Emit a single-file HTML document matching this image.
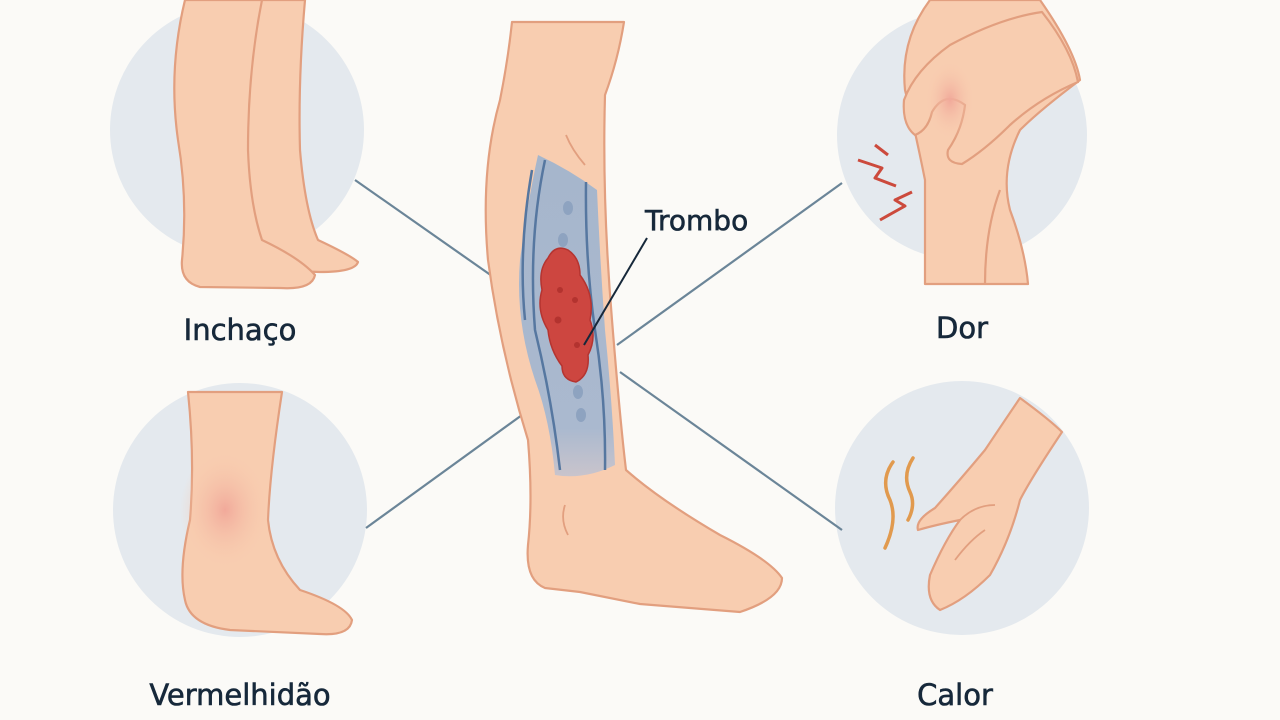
<!DOCTYPE html>
<html><head><meta charset="utf-8"><style>
html,body{margin:0;padding:0;background:#fbfaf7;}
svg{display:block}
text{font-family:"DejaVu Sans","Liberation Sans",sans-serif;fill:#16283a;font-weight:500;stroke:#16283a;stroke-width:0.6}
</style></head><body>
<svg width="1280" height="720" viewBox="0 0 1280 720" xmlns="http://www.w3.org/2000/svg">
<defs>
<radialGradient id="red" cx="0.5" cy="0.5" r="0.5"><stop offset="0" stop-color="#f1a99a"/><stop offset="1" stop-color="#f8cdb0" stop-opacity="0"/></radialGradient>
<linearGradient id="vein" x1="0" y1="0" x2="0" y2="1"><stop offset="0" stop-color="#a6b6cc"/><stop offset="0.85" stop-color="#aab9cf"/><stop offset="1" stop-color="#c9c4cc"/></linearGradient>
</defs>
<g fill="#e4e9ee">
<circle cx="237" cy="130" r="127"/>
<circle cx="240" cy="510" r="127"/>
<circle cx="962" cy="135" r="125"/>
<circle cx="962" cy="508" r="127"/>
</g>
<g stroke="#6b8598" stroke-width="2.2">
<line x1="355" y1="180" x2="492" y2="276"/>
<line x1="366" y1="528" x2="522" y2="415"/>
<line x1="617" y1="345" x2="842" y2="183"/>
<line x1="620" y1="372" x2="842" y2="530"/>
</g>
<g fill="#f8cdb0" stroke="#e29f7f" stroke-width="2.2" stroke-linejoin="round">
<path d="M240 0 L305 0 Q298 80 300 150 Q305 210 318 240 Q350 255 358 262 Q355 272 320 272 L260 270 Q240 265 238 240 Q232 170 240 90 Z"/>
<path d="M185 0 L262 0 Q248 70 248 150 Q250 205 262 240 Q300 258 315 275 Q312 290 280 288 L200 287 Q180 282 182 260 Q188 200 178 140 Q168 70 185 0 Z"/>
<path d="M188 392 L282 392 Q270 470 268 520 Q272 560 300 590 Q345 605 352 620 Q350 636 320 634 L230 630 Q190 625 185 600 Q178 570 190 520 Q195 460 188 392 Z"/>
<path d="M512 22 L624 22 Q618 60 605 95 Q602 200 612 320 Q620 420 626 470 Q660 500 720 535 Q770 560 782 578 Q782 598 740 612 L640 604 Q600 596 580 592 L545 588 Q525 580 528 545 Q533 500 528 440 Q500 350 488 260 Q480 170 500 100 Q508 60 512 22 Z"/>
<!-- knee leg -->
<path d="M925 284 L925 180 Q915 130 905 90 Q900 40 930 0 L1040 0 Q1075 50 1080 80 Q1040 110 1020 130 Q1000 170 1010 210 Q1025 250 1028 284 Z"/>
<path d="M985 284 Q985 230 1000 190" fill="none"/>
<!-- hand on knee -->
<path d="M950 45 Q1000 18 1042 12 Q1072 50 1078 82 Q1040 98 1010 125 Q985 150 962 164 Q945 163 948 150 Q962 130 965 105 Q945 90 932 112 Q928 130 915 135 Q902 125 904 100 Q915 70 950 45 Z"/>
<!-- hand -->
<path d="M1020 398 Q1050 420 1062 432 Q1030 480 1020 500 Q1010 540 990 575 Q965 600 940 610 Q925 600 930 575 Q945 540 960 520 Q935 525 918 530 Q915 520 935 508 Q960 480 985 450 Q1005 420 1020 398 Z"/>
</g>
<g fill="none" stroke="#e29f7f" stroke-width="1.8">
<path d="M960 520 Q975 505 995 505"/>
<path d="M955 560 Q970 540 985 530"/>
<path d="M585 165 Q572 150 566 135"/>
<path d="M565 505 Q560 520 568 535"/>
</g>
<ellipse cx="225" cy="510" rx="45" ry="60" fill="url(#red)"/>
<ellipse cx="950" cy="100" rx="25" ry="40" fill="url(#red)"/>
<path d="M538 155 Q570 170 597 190 Q600 260 605 330 Q612 400 615 465 Q585 480 555 475 Q550 420 535 380 Q515 320 520 260 Q528 200 538 155 Z" fill="url(#vein)"/>
<g fill="none" stroke="#5677a0" stroke-width="2.5">
<path d="M545 160 Q528 240 535 330 Q552 400 560 470"/>
<path d="M586 182 Q585 260 595 330 Q606 400 605 470"/>
<path d="M532 170 Q518 250 525 320"/>
</g>
<g fill="#8ea3c0"><ellipse cx="568" cy="208" rx="5" ry="7"/><ellipse cx="563" cy="240" rx="5" ry="7"/><ellipse cx="578" cy="392" rx="5" ry="7"/><ellipse cx="581" cy="415" rx="5" ry="7"/></g>
<path d="M548 258 Q555 244 568 250 Q580 258 580 275 Q595 295 590 320 Q597 338 588 355 Q590 375 576 382 Q562 380 562 366 Q550 350 548 330 Q536 310 542 290 Q538 270 548 258 Z" fill="#cd4640" stroke="#b53430" stroke-width="1.5"/>
<g fill="#b3332f"><circle cx="560" cy="290" r="3"/><circle cx="575" cy="300" r="3"/><circle cx="558" cy="320" r="3.5"/><circle cx="577" cy="345" r="3"/></g>
<line x1="647" y1="238" x2="584" y2="345" stroke="#16283a" stroke-width="2"/>
<g fill="none" stroke="#cc4a3c" stroke-width="3" stroke-linejoin="round">
<path d="M858 160 L882 168 L875 178 L896 186"/>
<path d="M880 220 L905 206 L895 200 L912 192"/>
<path d="M875 145 L888 155"/>
</g>
<g fill="none" stroke="#e19a4e" stroke-width="3.5" stroke-linecap="round">
<path d="M893 462 Q880 480 890 500 Q898 520 885 548"/>
<path d="M913 458 Q902 475 910 492 Q916 505 908 520"/>
</g>
<text x="240" y="340" font-size="29" text-anchor="middle">Inchaço</text>
<text x="240" y="705" font-size="29" text-anchor="middle">Vermelhidão</text>
<text x="962" y="338" font-size="29" text-anchor="middle">Dor</text>
<text x="955" y="705" font-size="29" text-anchor="middle">Calor</text>
<text x="645" y="230" font-size="28">Trombo</text>
</svg>
</body></html>
